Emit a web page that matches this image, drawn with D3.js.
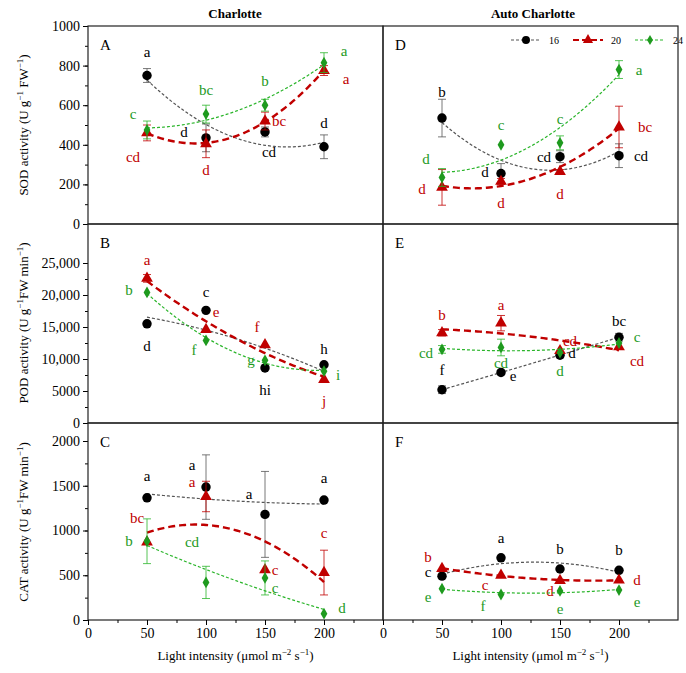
<!DOCTYPE html>
<html><head><meta charset="utf-8">
<script src="https://cdn.jsdelivr.net/npm/d3@7"></script>
<style>body{margin:0;background:#fff}svg text{font-family:"Liberation Serif","Times New Roman",serif !important}</style>
</head><body><div id="chart"></div>
<script>
// Light intensity levels
const light = [50, 100, 150, 200];
const seriesNames = ["16", "20", "24"];
const colors = ["#000000", "#c00000", "#1e9a1e"];
const lineColors = ["#555555", "#c00000", "#2bb52b"];

// values [16, 20, 24] per panel
const sodC = [[750, 435, 465, 390], [460, 405, 520, 775], [475, 555, 600, 815]];
const sodCErr = [[35, 70, 25, 60], [40, 70, 45, 25], [45, 45, 30, 50]];
const sodCLet = [["a", "d", "cd", "d"], ["cd", "d", "bc", "a"], ["c", "bc", "b", "a"]];
const sodA = [[535, 255, 340, 345], [185, 215, 265, 490], [235, 400, 410, 780]];
const sodAErr = [[95, 50, 30, 60], [90, 15, 10, 105], [45, 0, 35, 45]];
const sodALet = [["b", "d", "cd", "cd"], ["d", "d", "d", "bc"], ["d", "c", "c", "a"]];

const podC = [[15500, 17600, 8600, 9100], [22600, 14600, 12200, 6800], [20400, 12900, 9800, 8100]];
const podCErr = [[0, 0, 0, 0], [600, 0, 0, 0], [0, 0, 0, 0]];
const podCLet = [["d", "c", "hi", "h"], ["a", "e", "f", "j"], ["b", "f", "g", "i"]];
const podA = [[5200, 7900, 10600, 13400], [14100, 15600, 11300, 11900], [11500, 11800, 11000, 12500]];
const podAErr = [[600, 0, 400, 600], [500, 1200, 0, 0], [600, 1300, 0, 0]];
const podALet = [["f", "e", "d", "bc"], ["b", "a", "cd", "cd"], ["cd", "cd", "d", "c"]];

const catC = [[1365, 1485, 1180, 1340], [870, 1380, 560, 530], [880, 420, 470, 70]];
const catCErr = [[0, 360, 480, 0], [0, 170, 0, 250], [250, 180, 190, 0]];
const catCLet = [["a", "a", "a", "a"], ["bc", "a", "c", "c"], ["b", "cd", "c", "d"]];
const catA = [[490, 695, 570, 555], [575, 500, 440, 445], [350, 285, 325, 335]];
const catAErr = [[0, 0, 0, 0], [0, 0, 0, 0], [0, 0, 0, 0]];
const catALet = [["c", "a", "b", "b"], ["b", "c", "d", "d"], ["e", "f", "e", "e"]];

// letter placement per point: [dx, dy]
const posA = [[[0, -24], [-22, -6], [4, 20], [0, -24]], [[-14, 24], [0, 26], [14, 0], [22, 8]], [[-14, -16], [0, -24], [0, -24], [20, -12]]];
const posD = [[[0, -26], [-16, -2], [-16, 0], [22, 0]], [[-20, 2], [0, 22], [0, 22], [26, 0]], [[-16, -18], [0, -20], [0, -24], [20, 0]]];
const posB = [[[0, 22], [0, -18], [0, 22], [0, -16]], [[0, -18], [10, -18], [-8, -18], [0, 22]], [[-18, -2], [-12, 10], [-14, 0], [14, 4]]];
const posE = [[[0, -20], [12, 4], [12, -2], [0, -16]], [[0, -18], [0, -18], [10, -10], [18, 14]], [[-16, 4], [0, 16], [0, 18], [18, -6]]];
const posC = [[[0, -22], [-14, -22], [-16, -20], [0, -22]], [[-10, -24], [-14, -14], [10, 0], [0, -40]], [[-18, 0], [-14, -40], [10, 10], [18, -6]]];
const posF = [[[-14, -4], [0, -20], [0, -20], [0, -20]], [[-14, -12], [-16, 10], [-10, 10], [18, 0]], [[-14, 8], [-18, 12], [0, 18], [18, 12]]];

const W = 686, H = 673;
const svg = d3.select("#chart").append("svg").attr("width", W).attr("height", H);

const xL = d3.scaleLinear().domain([0, 250]).range([88, 383]);
const xR = d3.scaleLinear().domain([0, 250]).range([383, 678]);

function polyfit(xs, ys) {
    // quadratic least squares
    const n = xs.length;
    const S = k => d3.sum(xs, x => Math.pow(x, k));
    const T = k => d3.sum(xs.map((x, i) => Math.pow(x, k) * ys[i]));
    const A = [[n, S(1), S(2)], [S(1), S(2), S(3)], [S(2), S(3), S(4)]];
    const b = [T(0), T(1), T(2)];
    for (let i = 0; i < 3; i++) {
        for (let j = i + 1; j < 3; j++) {
            const f = A[j][i] / A[i][i];
            for (let k = i; k < 3; k++) A[j][k] -= f * A[i][k];
            b[j] -= f * b[i];
        }
    }
    const c = [0, 0, 0];
    for (let i = 2; i >= 0; i--) {
        let s = b[i];
        for (let k = i + 1; k < 3; k++) s -= A[i][k] * c[k];
        c[i] = s / A[i][i];
    }
    return x => c[0] + c[1] * x + c[2] * x * x;
}

function drawPanel(x, y, top, bottom, vals, errs, lets, pos, tag) {
    const g = svg.append("g");
    g.append("rect").attr("x", x.range()[0]).attr("y", top).attr("width", x.range()[1] - x.range()[0])
        .attr("height", bottom - top).attr("fill", "none").attr("stroke", "#222").attr("stroke-width", 1.2);
    g.append("text").attr("x", x.range()[0] + 12).attr("y", top + 24).attr("font-size", 15).text(tag);

    vals.forEach((v, s) => {
        const f = polyfit(light, v);
        const pts = d3.range(50, 200.5, 2).map(t => [x(t), y(f(t))]);
        g.append("path").attr("d", d3.line()(pts)).attr("fill", "none")
            .attr("stroke", lineColors[s]).attr("stroke-width", s === 1 ? 2.4 : 1.2)
            .attr("stroke-dasharray", s === 1 ? "7,4" : "3,2");
        v.forEach((val, i) => {
            const e = errs[s][i], cx = x(light[i]);
            if (e > 0) {
                g.append("line").attr("x1", cx).attr("x2", cx).attr("y1", y(val - e)).attr("y2", y(val + e)).attr("stroke", lineColors[s]).attr("stroke-width", 0.8);
                [val - e, val + e].forEach(q => g.append("line").attr("x1", cx - 4).attr("x2", cx + 4).attr("y1", y(q)).attr("y2", y(q)).attr("stroke", lineColors[s]).attr("stroke-width", 0.8));
            }
            const sym = [d3.symbolCircle, d3.symbolTriangle, d3.symbolDiamond][s];
            const size = [70, 60, 40][s];
            g.append("path").attr("d", d3.symbol(sym, size)()).attr("transform", `translate(${cx},${y(val)})`).attr("fill", colors[s]);
            g.append("text").attr("x", cx + pos[s][i][0]).attr("y", y(val) + pos[s][i][1] + 5)
                .attr("text-anchor", "middle").attr("font-size", 15).attr("fill", colors[s]).text(lets[s][i]);
        });
    });
}

// y scales
const ySod = d3.scaleLinear().domain([0, 1000]).range([224, 26]);
const yPod = d3.scaleLinear().domain([0, 25000]).range([423, 263]);
const yCat = d3.scaleLinear().domain([0, 2000]).range([620, 441]);

function yAxis(scale, ticks, fmt) {
    const ax = d3.axisLeft(scale).tickValues(ticks).tickFormat(fmt).tickSize(5).tickSizeOuter(0);
    const minor = d3.axisLeft(scale).tickValues(d3.range(ticks[0], ticks[ticks.length - 1], (ticks[1] - ticks[0]) / 2)).tickFormat("").tickSize(3);
    svg.append("g").attr("transform", "translate(88,0)").call(minor).select(".domain").remove();
    const g = svg.append("g").attr("transform", "translate(88,0)").call(ax);
    g.select(".domain").remove();
    g.selectAll("text").attr("font-size", 14);
}
yAxis(ySod, [0, 200, 400, 600, 800, 1000], d3.format("d"));
yAxis(yPod, [0, 5000, 10000, 15000, 20000, 25000], d => d < 10000 ? d : d3.format(",")(d));
yAxis(yCat, [0, 500, 1000, 1500, 2000], d3.format("d"));

drawPanel(xL, ySod, 26, 224, sodC, sodCErr, sodCLet, posA, "A");
drawPanel(xR, ySod, 26, 224, sodA, sodAErr, sodALet, posD, "D");
drawPanel(xL, yPod, 224, 423, podC, podCErr, podCLet, posB, "B");
drawPanel(xR, yPod, 224, 423, podA, podAErr, podALet, posE, "E");
drawPanel(xL, yCat, 423, 620, catC, catCErr, catCLet, posC, "C");
drawPanel(xR, yCat, 423, 620, catA, catAErr, catALet, posF, "F");

[xL, xR].forEach(x => {
    const g = svg.append("g").attr("transform", "translate(0,620)")
        .call(d3.axisBottom(x).tickValues([0, 50, 100, 150, 200]).tickSize(5));
    g.select(".domain").remove();
    g.selectAll("text").attr("font-size", 14);
    svg.append("g").attr("transform", "translate(0,620)")
        .call(d3.axisBottom(x).tickValues([25, 75, 125, 175, 225]).tickFormat("").tickSize(3)).select(".domain").remove();
    const t = svg.append("text").attr("x", (x.range()[0] + x.range()[1]) / 2).attr("y", 660)
        .attr("text-anchor", "middle").attr("font-size", 13);
    t.append("tspan").text("Light intensity (μmol m");
    t.append("tspan").attr("dy", -5).attr("font-size", 9).text("−2");
    t.append("tspan").attr("dy", 5).text(" s");
    t.append("tspan").attr("dy", -5).attr("font-size", 9).text("−1");
    t.append("tspan").attr("dy", 5).text(")");
});

svg.append("text").attr("x", 235).attr("y", 18).attr("text-anchor", "middle").attr("font-weight", "bold").attr("font-size", 13).text("Charlotte");
svg.append("text").attr("x", 533).attr("y", 18).attr("text-anchor", "middle").attr("font-weight", "bold").attr("font-size", 13).text("Auto Charlotte");

function yTitle(cy, parts) {
    const t = svg.append("text").attr("transform", `translate(28,${cy}) rotate(-90)`).attr("text-anchor", "middle").attr("font-size", 13);
    parts.forEach(([s, sup]) => t.append("tspan").attr("dy", sup ? -5 : (sup === false ? 5 : 0)).attr("font-size", sup ? 9 : 13).text(s));
}
yTitle(125, [["SOD activity (U g"], ["−1", true], [" FW", false], ["−1", true], [")", false]]);
yTitle(323, [["POD activity (U g"], ["−1", true], ["FW min", false], ["−1", true], [")", false]]);
yTitle(522, [["CAT activity (U g"], ["−1", true], ["FW min", false], ["−1", true], [")", false]]);

// legend
const leg = svg.append("g");
seriesNames.forEach((n, s) => {
    const lx = 511 + s * 62, ly = 40;
    leg.append("line").attr("x1", lx).attr("x2", lx + 30).attr("y1", ly).attr("y2", ly).attr("stroke", lineColors[s])
        .attr("stroke-width", s === 1 ? 2.2 : 1.2).attr("stroke-dasharray", s === 1 ? "6,3" : "3,2");
    leg.append("path").attr("d", d3.symbol([d3.symbolCircle, d3.symbolTriangle, d3.symbolDiamond][s], [50, 45, 30][s])())
        .attr("transform", `translate(${lx + 15},${ly})`).attr("fill", colors[s]);
    leg.append("text").attr("x", lx + 38).attr("y", ly + 4).attr("font-size", 10).text(n);
});
</script></body></html>
